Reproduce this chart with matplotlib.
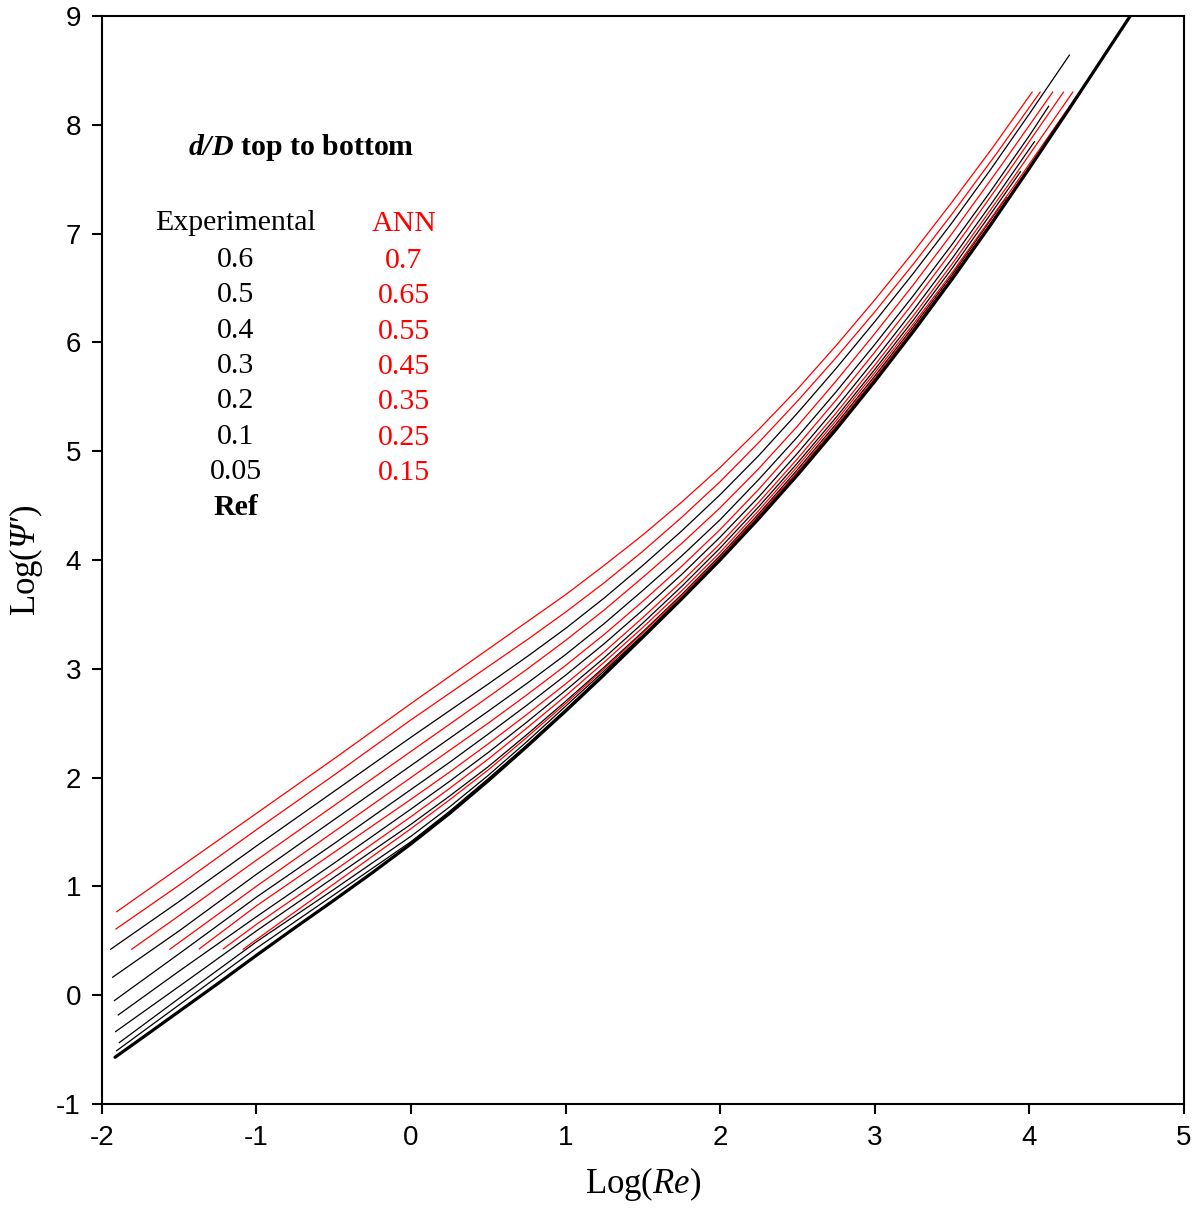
import matplotlib
matplotlib.use('Agg')
import matplotlib.pyplot as plt

plt.rcParams['axes.unicode_minus'] = False
plt.rcParams['mathtext.fontset'] = 'custom'
plt.rcParams['mathtext.rm'] = 'Liberation Serif'
plt.rcParams['mathtext.it'] = 'Liberation Serif:italic'
plt.rcParams['mathtext.sf'] = 'Liberation Serif:italic'
plt.rcParams['mathtext.bf'] = 'Liberation Serif:bold'
plt.rcParams['mathtext.bfit'] = 'Liberation Serif:italic:bold'

# Reference curve (thick black)
ref_x = [-1.914, -1.75, -1.5, -1.25, -1.0, -0.75, -0.5, -0.25, 0.0, 0.25, 0.5, 0.75, 1.0,
         1.25, 1.5, 1.75, 2.0, 2.25, 2.5, 2.75, 3.0, 3.25, 3.5, 3.75, 4.0, 4.25, 4.5, 4.75]
ref_y = [-0.571, -0.405, -0.15, 0.105, 0.365, 0.62, 0.87, 1.125, 1.39, 1.67, 1.97, 2.285, 2.61,
         2.945, 3.29, 3.64, 4.00, 4.38, 4.78, 5.20, 5.64, 6.10, 6.58, 7.08, 7.60, 8.13, 8.67, 9.21]

# Experimental curves, d/D = 0.6 ... 0.05 (black)
exp_labels = ['0.6', '0.5', '0.4', '0.3', '0.2', '0.1', '0.05']
exp_x = [
    [-1.942, -1.5, -1.0, -0.5, 0.0, 0.25, 0.5, 0.75, 1.0, 1.25, 1.5, 1.75, 2.0, 2.25, 2.5, 2.75,
     3.0, 3.25, 3.5, 3.75, 4.0, 4.259],
    [-1.929, -1.5, -1.0, -0.5, 0.0, 0.25, 0.5, 0.75, 1.0, 1.25, 1.5, 1.75, 2.0, 2.25, 2.5, 2.75,
     3.0, 3.25, 3.5, 3.75, 4.0, 4.125],
    [-1.918, -1.5, -1.0, -0.5, 0.0, 0.25, 0.5, 0.75, 1.0, 1.25, 1.5, 1.75, 2.0, 2.25, 2.5, 2.75,
     3.0, 3.25, 3.5, 3.767, 4.033],
    [-1.893, -1.5, -1.0, -0.5, 0.0, 0.25, 0.5, 0.75, 1.0, 1.25, 1.5, 1.75, 2.0, 2.25, 2.5, 2.75,
     3.0, 3.25, 3.5, 3.72, 3.943],
    [-1.910, -1.5, -1.0, -0.5, 0.0, 0.25, 0.5, 0.75, 1.0, 1.25, 1.5, 1.75, 2.0, 2.25, 2.5, 2.75,
     3.0, 3.25, 3.5, 3.85],
    [-1.886, -1.5, -1.0, -0.5, 0.0, 0.25, 0.5, 0.75, 1.0, 1.25, 1.5, 1.75, 2.0, 2.25, 2.5, 2.75,
     3.0, 3.25, 3.5, 3.80],
    [-1.903, -1.5, -1.0, -0.5, 0.0, 0.25, 0.5, 0.75, 1.0, 1.25, 1.5, 1.75, 2.0, 2.25, 2.5, 2.75,
     3.0, 3.25, 3.5, 3.75],
]
exp_y = [
    [0.422, 0.86, 1.37, 1.87, 2.37, 2.615, 2.86, 3.11, 3.37, 3.65, 3.95, 4.265, 4.60, 4.96, 5.35,
     5.76, 6.19, 6.635, 7.10, 7.59, 8.10, 8.64],
    [0.165, 0.59, 1.11, 1.61, 2.11, 2.36, 2.61, 2.865, 3.13, 3.415, 3.72, 4.035, 4.37, 4.74, 5.13,
     5.545, 5.98, 6.43, 6.90, 7.39, 7.90, 8.17],
    [-0.050, 0.38, 0.90, 1.39, 1.89, 2.14, 2.40, 2.665, 2.94, 3.23, 3.54, 3.865, 4.21, 4.58, 4.98,
     5.40, 5.84, 6.295, 6.77, 7.30, 7.845],
    [-0.182, 0.22, 0.72, 1.21, 1.71, 1.965, 2.23, 2.51, 2.80, 3.10, 3.42, 3.755, 4.11, 4.49, 4.89,
     5.31, 5.75, 6.205, 6.68, 7.12, 7.569],
    [-0.335, 0.08, 0.59, 1.08, 1.57, 1.83, 2.10, 2.395, 2.70, 3.015, 3.34, 3.68, 4.04, 4.425, 4.83,
     5.25, 5.69, 6.145, 6.62, 7.33],
    [-0.436, -0.03, 0.49, 0.97, 1.46, 1.73, 2.02, 2.33, 2.655, 2.98, 3.31, 3.655, 4.015, 4.40, 4.80,
     5.22, 5.66, 6.115, 6.59, 7.19],
    [-0.510, -0.09, 0.43, 0.92, 1.41, 1.69, 1.99, 2.30, 2.625, 2.96, 3.30, 3.645, 4.005, 4.39, 4.79,
     5.21, 5.65, 6.11, 6.585, 7.09],
]

# ANN curves, d/D = 0.7 ... 0.15 (red)
ann_labels = ['0.7', '0.65', '0.55', '0.45', '0.35', '0.25', '0.15']
ann_x = [
    [-1.903, -1.5, -1.0, -0.5, 0.0, 0.25, 0.5, 0.75, 1.0, 1.25, 1.5, 1.75, 2.0, 2.25, 2.5, 2.75,
     3.0, 3.25, 3.5, 3.76, 4.018],
    [-1.908, -1.5, -1.0, -0.5, 0.0, 0.25, 0.5, 0.75, 1.0, 1.25, 1.5, 1.75, 2.0, 2.25, 2.5, 2.75,
     3.0, 3.25, 3.5, 3.785, 4.070],
    [-1.806, -1.5, -1.0, -0.5, 0.0, 0.25, 0.5, 0.75, 1.0, 1.25, 1.5, 1.75, 2.0, 2.25, 2.5, 2.75,
     3.0, 3.25, 3.5, 3.825, 4.151],
    [-1.559, -1.0, -0.5, 0.0, 0.25, 0.5, 0.75, 1.0, 1.25, 1.5, 1.75, 2.0, 2.25, 2.5, 2.75,
     3.0, 3.25, 3.5, 3.86, 4.221],
    [-1.369, -1.0, -0.5, 0.0, 0.25, 0.5, 0.75, 1.0, 1.25, 1.5, 1.75, 2.0, 2.25, 2.5, 2.75,
     3.0, 3.25, 3.5, 3.89, 4.281],
    [-1.214, -1.0, -0.5, 0.0, 0.25, 0.5, 0.75, 1.0, 1.25, 1.5, 1.75, 2.0, 2.25, 2.5, 2.75,
     3.0, 3.25, 3.5, 3.912, 4.324],
    [-1.085, -1.0, -0.5, 0.0, 0.25, 0.5, 0.75, 1.0, 1.25, 1.5, 1.75, 2.0, 2.25, 2.5, 2.75,
     3.0, 3.25, 3.5, 3.75, 4.0, 4.335],
]
ann_y = [
    [0.767, 1.17, 1.67, 2.17, 2.68, 2.93, 3.18, 3.43, 3.68, 3.95, 4.23, 4.53, 4.85, 5.20, 5.57,
     5.97, 6.39, 6.83, 7.29, 7.785, 8.30],
    [0.608, 1.01, 1.52, 2.02, 2.53, 2.775, 3.02, 3.265, 3.52, 3.79, 4.08, 4.39, 4.72, 5.08, 5.46,
     5.86, 6.28, 6.72, 7.18, 7.73, 8.30],
    [0.422, 0.73, 1.24, 1.74, 2.24, 2.49, 2.74, 2.995, 3.26, 3.54, 3.84, 4.15, 4.48, 4.84, 5.23,
     5.645, 6.08, 6.53, 7.00, 7.64, 8.30],
    [0.422, 1.00, 1.50, 2.00, 2.25, 2.50, 2.76, 3.03, 3.315, 3.62, 3.94, 4.28, 4.65, 5.05,
     5.47, 5.91, 6.365, 6.84, 7.56, 8.30],
    [0.425, 0.82, 1.31, 1.80, 2.05, 2.31, 2.58, 2.86, 3.155, 3.47, 3.80, 4.15, 4.53, 4.93,
     5.35, 5.79, 6.245, 6.72, 7.50, 8.30],
    [0.425, 0.65, 1.14, 1.64, 1.90, 2.17, 2.455, 2.75, 3.06, 3.38, 3.715, 4.07, 4.455, 4.86,
     5.28, 5.72, 6.17, 6.64, 7.46, 8.30],
    [0.422, 0.51, 1.02, 1.53, 1.795, 2.07, 2.37, 2.68, 3.00, 3.33, 3.67, 4.025, 4.41, 4.81,
     5.23, 5.67, 6.125, 6.60, 7.10, 7.615, 8.30],
]

fig = plt.figure(figsize=(12.01, 12.09), dpi=100)
ax = fig.add_axes([0.0847, 0.0869, 0.9011, 0.8999])

for xs, ys in zip(exp_x, exp_y):
    ax.plot(xs, ys, color='black', lw=0.9)
for xs, ys in zip(ann_x, ann_y):
    ax.plot(xs, ys, color='red', lw=0.9)
ax.plot(ref_x, ref_y, color='black', lw=2.3, solid_capstyle='round')

ax.set_xlim(-2, 5)
ax.set_ylim(-1, 9)
ax.set_xticks(range(-2, 6))
ax.set_yticks(range(-1, 10))
for s in ax.spines.values():
    s.set_linewidth(1.5)
ax.tick_params(direction='out', length=7, width=1.5, labelsize=20, pad=8)
for lab in ax.get_xticklabels() + ax.get_yticklabels():
    lab.set_family('Liberation Sans')

ax.set_xlabel(r'Log($\mathit{Re}$)', family='Liberation Serif', fontsize=25, labelpad=10)
ax.set_ylabel(r'Log($\mathsf{Ψ′}$)', family='Liberation Serif', fontsize=25, labelpad=8)


# pixel position in the image -> data coordinates (for the text block)
def px(x, y):
    return (x - 101.7) / 154.7 - 2, (1104 - y) / 108.8 - 1


serif = 'Liberation Serif'
fs = 21.5
ax.text(*px(301, 155), r'$\mathbfit{d/D}$ top to bottom', fontsize=fs,
        family=serif, weight='bold', ha='center', va='baseline')
ax.text(*px(236, 230), 'Experimental', fontsize=fs, family=serif,
        ha='center', va='baseline')
ax.text(*px(404, 231.5), 'ANN', fontsize=fs, family=serif,
        color='red', ha='center', va='baseline')
step = 35.45
for i, lab in enumerate(exp_labels + ['Ref']):
    ax.text(*px(236, 266.7 + i * step), lab, fontsize=fs, family=serif,
            weight='bold' if lab == 'Ref' else 'normal', ha='center', va='baseline')
for i, lab in enumerate(ann_labels):
    ax.text(*px(404, 267.7 + i * step), lab, fontsize=fs, family=serif,
            color='red', ha='center', va='baseline')

fig.savefig('out.png', dpi=100)
